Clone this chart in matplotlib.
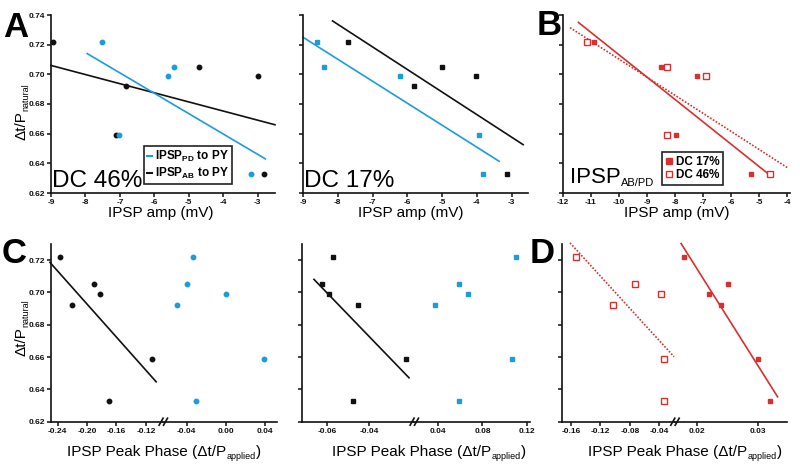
import matplotlib
matplotlib.use("Agg")
import matplotlib.pyplot as plt
from matplotlib.lines import Line2D

plt.rcParams['font.family'] = ['Liberation Sans', 'DejaVu Sans']
plt.rcParams['mathtext.fontset'] = 'custom'
plt.rcParams['mathtext.rm'] = 'Liberation Sans'
plt.rcParams['mathtext.bf'] = 'Liberation Sans:bold'
plt.rcParams['mathtext.it'] = 'Liberation Sans:italic'

BLUE = '#1c9cd8'
RED = '#d8302f'
BLACK = '#111111'

# ---- panel A (DC 46%): IPSP amplitude vs phase ----
a_pd_amp = [-7.52, -5.6, -5.43, -7.03, -3.2]
a_pd_phase = [0.722, 0.699, 0.705, 0.659, 0.633]
a_ab_amp = [-8.94, -6.83, -7.12, -4.71, -3.0, -2.83]
a_ab_phase = [0.722, 0.692, 0.659, 0.705, 0.699, 0.633]
a_pd_fit_x, a_pd_fit_y = [-7.95, -2.78], [0.714, 0.643]
a_ab_fit_x, a_ab_fit_y = [-9.0, -2.5], [0.706, 0.666]

# ---- DC 17% top ----
m_pd_amp = [-8.59, -8.4, -6.21, -3.93, -3.82]
m_pd_phase = [0.722, 0.705, 0.699, 0.659, 0.633]
m_ab_amp = [-7.7, -5.81, -5.01, -4.03, -3.13]
m_ab_phase = [0.722, 0.692, 0.705, 0.699, 0.633]
m_pd_fit_x, m_pd_fit_y = [-9.0, -3.36], [0.725, 0.6414]
m_ab_fit_x, m_ab_fit_y = [-8.15, -2.67], [0.736, 0.6526]

# ---- panel B: IPSP AB/PD ----
b17_amp = [-10.89, -8.48, -7.20, -7.98, -5.30]
b17_phase = [0.722, 0.705, 0.699, 0.659, 0.633]
b46_amp = [-11.12, -8.28, -6.88, -8.28, -4.60]
b46_phase = [0.722, 0.705, 0.699, 0.659, 0.633]
b17_fit_x, b17_fit_y = [-11.44, -4.72], [0.735, 0.6336]
b46_fit_x, b46_fit_y = [-11.74, -3.97], [0.7315, 0.6368]

# ---- panel C (DC 46%): peak phase vs phase ----
c_ab_peak = [-0.237, -0.22, -0.19, -0.182, -0.17, -0.111]
c_ab_phase = [0.722, 0.692, 0.705, 0.699, 0.633, 0.659]
c_pd_peak = [-0.034, -0.040, -0.050, 0.0, 0.039, -0.031]
c_pd_phase = [0.722, 0.705, 0.692, 0.699, 0.659, 0.633]
c_ab_fit_x, c_ab_fit_y = [-0.2505, -0.106], [0.7186, 0.6447]

# ---- DC 17% bottom ----
n_ab_peak = [-0.057, -0.0624, -0.0592, -0.0455, -0.0228, -0.0476]
n_ab_phase = [0.722, 0.705, 0.699, 0.692, 0.659, 0.633]
n_pd_peak = [0.110, 0.059, 0.067, 0.037, 0.107, 0.059]
n_pd_phase = [0.722, 0.705, 0.699, 0.692, 0.659, 0.633]
n_ab_fit_x, n_ab_fit_y = [-0.0661, -0.0214], [0.7081, 0.6472]

# ---- panel D ----
d46_peak = [-0.1536, -0.0733, -0.0373, -0.1035, -0.0332, -0.0332]
d46_phase = [0.722, 0.705, 0.699, 0.692, 0.659, 0.633]
d17_peak = [0.0179, 0.0251, 0.022, 0.024, 0.0301, 0.0321]
d17_phase = [0.722, 0.705, 0.699, 0.692, 0.659, 0.633]
d46_fit_x, d46_fit_y = [-0.1613, -0.0199], [0.7307, 0.6602]
d17_fit_x, d17_fit_y = [0.0174, 0.0333], [0.7303, 0.6354]

top_yticks = [0.62, 0.64, 0.66, 0.68, 0.70, 0.72, 0.74]
bot_yticks = [0.62, 0.64, 0.66, 0.68, 0.70, 0.72]

W, H = 800, 465
fig = plt.figure(figsize=(8, 4.65), dpi=100)
renderer = fig.canvas.get_renderer()


def px_axes(x0, x1, y0, y1):
    # pixel box -> figure axes
    return fig.add_axes([x0 / W, 1 - y1 / H, (x1 - x0) / W, (y1 - y0) / H])


def style(ax, xticks, xfmt, yticks, ylabels=True, left=True):
    for s in ['top', 'right']:
        ax.spines[s].set_visible(False)
    for s in ['left', 'bottom']:
        ax.spines[s].set_linewidth(1.2)
        ax.spines[s].set_color(BLACK)
    ax.tick_params(direction='out', length=3, width=1.1, pad=1.5, colors=BLACK)
    ax.set_xticks(xticks)
    ax.set_xticklabels([xfmt(t) for t in xticks], fontsize=6, fontweight='bold')
    if left:
        ax.set_yticks(yticks)
        if ylabels:
            ax.set_yticklabels(['%.2f' % t for t in yticks], fontsize=6, fontweight='bold')
        else:
            ax.set_yticklabels([])
    else:
        ax.spines['left'].set_visible(False)
        ax.set_yticks([])


def intfmt(t):
    return '%d' % t


def f2(t):
    return '%.2f' % t


def dots(ax, x, y, color, marker='o', ms=3.2, face=None):
    ax.plot(x, y, ls='none', marker=marker, ms=ms, color=color,
            mfc=face if face else color, mec=color, mew=1.0, zorder=3, clip_on=False)


def fit(ax, x, y, color, ls='-'):
    ax.plot(x, y, color=color, lw=1.2, ls=ls, zorder=2, clip_on=False)


def brk(xp, yp):
    # "//" break mark on a broken x axis, in figure pixels
    for off in (-2.2, 2.2):
        fig.add_artist(Line2D([(xp + off - 2) / W, (xp + off + 2) / W],
                              [1 - (yp + 3.5) / H, 1 - (yp - 3.5) / H],
                              color=BLACK, lw=1.2, transform=fig.transFigure))


def compose(x, y, parts, align='center'):
    # horizontal text made of pieces of different size; y = baseline in pixels
    texts = [fig.text(0, 0, s, fontsize=size, va='baseline', ha='left') for s, size, dy in parts]
    widths = [t.get_window_extent(renderer).width for t in texts]
    xs = x - sum(widths) / 2 if align == 'center' else x
    for t, w, (s, size, dy) in zip(texts, widths, parts):
        t.set_position((xs / W, 1 - (y + dy) / H))
        xs += w


def compose_v(xb, yc, parts):
    # rotated (bottom-to-top) text; xb = baseline x in pixels, yc = centre y
    texts = [fig.text(0, 0, s, fontsize=size, rotation=90, rotation_mode='anchor',
                      va='baseline', ha='left') for s, size, dx in parts]
    heights = [t.get_window_extent(renderer).height for t in texts]
    ys = yc + sum(heights) / 2
    for t, h, (s, size, dx) in zip(texts, heights, parts):
        t.set_position(((xb + dx) / W, 1 - ys / H))
        ys -= h


TY0, TY1 = 15, 193
BY0, BY1 = 244, 421.7

# ---------------- top row ----------------
axA = px_axes(51, 275, TY0, TY1)
fit(axA, a_ab_fit_x, a_ab_fit_y, BLACK)
fit(axA, a_pd_fit_x, a_pd_fit_y, BLUE)
dots(axA, a_ab_amp, a_ab_phase, BLACK)
dots(axA, a_pd_amp, a_pd_phase, BLUE)
axA.set_xlim(-9, -2.5)
axA.set_ylim(0.62, 0.74)
style(axA, [-9, -8, -7, -6, -5, -4, -3], intfmt, top_yticks)
axA.text(0.005, 0.035, 'DC 46%', transform=axA.transAxes, fontsize=17.5, va='baseline')
hA = [Line2D([], [], color=BLUE, lw=1.5), Line2D([], [], color=BLACK, lw=1.5)]
legA = axA.legend(hA, [r'IPSP$_{\mathbf{PD}}$ to PY', r'IPSP$_{\mathbf{AB}}$ to PY'],
                  loc='lower left', bbox_to_anchor=(0.415, 0.05), borderaxespad=0,
                  handlelength=0.4, handletextpad=0.3, labelspacing=0.15, borderpad=0.25,
                  fancybox=False, framealpha=1, edgecolor='#222222',
                  prop={'weight': 'bold', 'size': 8.5})
legA.get_frame().set_linewidth(1.2)

axM = px_axes(303, 528, TY0, TY1)
fit(axM, m_ab_fit_x, m_ab_fit_y, BLACK)
fit(axM, m_pd_fit_x, m_pd_fit_y, BLUE)
dots(axM, m_ab_amp, m_ab_phase, BLACK, marker='s', ms=3.4)
dots(axM, m_pd_amp, m_pd_phase, BLUE, marker='s', ms=3.4)
axM.set_xlim(-9, -2.53)
axM.set_ylim(0.62, 0.74)
style(axM, [-9, -8, -7, -6, -5, -4, -3], intfmt, top_yticks, ylabels=False)
axM.text(0.005, 0.035, 'DC 17%', transform=axM.transAxes, fontsize=17.5, va='baseline')

axB = px_axes(562.7, 790, TY0, TY1)
fit(axB, b17_fit_x, b17_fit_y, RED)
fit(axB, b46_fit_x, b46_fit_y, RED, ls=(0, (1, 1)))
dots(axB, b17_amp, b17_phase, RED, marker='s', ms=3.4)
dots(axB, b46_amp, b46_phase, RED, marker='s', ms=4.2, face='white')
axB.set_xlim(-12, -3.9)
axB.set_ylim(0.62, 0.74)
style(axB, [-12, -11, -10, -9, -8, -7, -6, -5, -4], intfmt, top_yticks, ylabels=False)
hB = [Line2D([], [], ls='none', marker='s', ms=4, color=RED),
      Line2D([], [], ls='none', marker='s', ms=4, mfc='white', mec=RED, mew=1.0)]
legB = axB.legend(hB, ['DC 17%', 'DC 46%'], loc='lower left', bbox_to_anchor=(0.436, 0.045),
                  borderaxespad=0, handlelength=0.6, handletextpad=0.3, labelspacing=0.15,
                  borderpad=0.3, fancybox=False, framealpha=1, edgecolor='#222222',
                  prop={'weight': 'bold', 'size': 8.5})
legB.get_frame().set_linewidth(1.2)
compose(570, 183, [('IPSP', 16, 0), ('AB/PD', 8, 3)], align='left')

# ---------------- bottom row (broken x axes) ----------------
axC1 = px_axes(51, 163.3, BY0, BY1)
axC2 = px_axes(163.3, 276.7, BY0, BY1)
fit(axC1, c_ab_fit_x, c_ab_fit_y, BLACK)
dots(axC1, c_ab_peak, c_ab_phase, BLACK)
dots(axC2, c_pd_peak, c_pd_phase, BLUE)
axC1.set_xlim(-0.2491, -0.0963)
axC2.set_xlim(-0.0639, 0.0519)
style(axC1, [-0.24, -0.20, -0.16, -0.12], f2, bot_yticks)
style(axC2, [-0.04, 0.0, 0.04], f2, bot_yticks, left=False)
brk(163.3, BY1)

axN1 = px_axes(302.3, 414.3, BY0, BY1)
axN2 = px_axes(414.3, 530, BY0, BY1)
fit(axN1, n_ab_fit_x, n_ab_fit_y, BLACK)
dots(axN1, n_ab_peak, n_ab_phase, BLACK, marker='s', ms=3.4)
dots(axN2, n_pd_peak, n_pd_phase, BLUE, marker='s', ms=3.4)
axN1.set_xlim(-0.0716, -0.0189)
axN2.set_xlim(0.0183, 0.123)
style(axN1, [-0.06, -0.04], f2, bot_yticks, ylabels=False)
style(axN2, [0.04, 0.08, 0.12], f2, bot_yticks, left=False)
brk(414.3, BY1)

axD1 = px_axes(562.3, 675, BY0, BY1)
axD2 = px_axes(675, 786.7, BY0, BY1)
fit(axD1, d46_fit_x, d46_fit_y, RED, ls=(0, (1, 1)))
fit(axD2, d17_fit_x, d17_fit_y, RED)
dots(axD1, d46_peak, d46_phase, RED, marker='s', ms=4.2, face='white')
dots(axD2, d17_peak, d17_phase, RED, marker='s', ms=3.4)
axD1.set_xlim(-0.1718, -0.0186)
axD2.set_xlim(0.0164, 0.0348)
style(axD1, [-0.16, -0.12, -0.08, -0.04], f2, bot_yticks, ylabels=False)
style(axD2, [0.02, 0.03], f2, bot_yticks, left=False)
brk(675, BY1)

for ax in [axC1, axC2, axN1, axN2, axD1, axD2]:
    ax.set_ylim(0.62, 0.73)

# ---------------- labels ----------------
for yc in [112, 328]:
    compose_v(25, yc, [('\u0394t/P', 11, 0), ('natural', 6.5, 3)])

for xc in [161, 411, 676.5]:
    fig.text(xc / W, 1 - 213 / H, 'IPSP amp (mV)', ha='center', va='center', fontsize=11)
for xc in [164, 429, 685]:
    compose(xc, 456, [('IPSP Peak Phase (\u0394t/P', 11, 0), ('applied', 6.5, 2.5), (')', 11, 0)])

for lab, x, y in [('A', 3, 37), ('B', 537, 35), ('C', 2, 263), ('D', 530, 263)]:
    fig.text(x / W, 1 - y / H, lab, fontsize=25, fontweight='bold', va='baseline', ha='left')

fig.savefig('out.png', dpi=100)
